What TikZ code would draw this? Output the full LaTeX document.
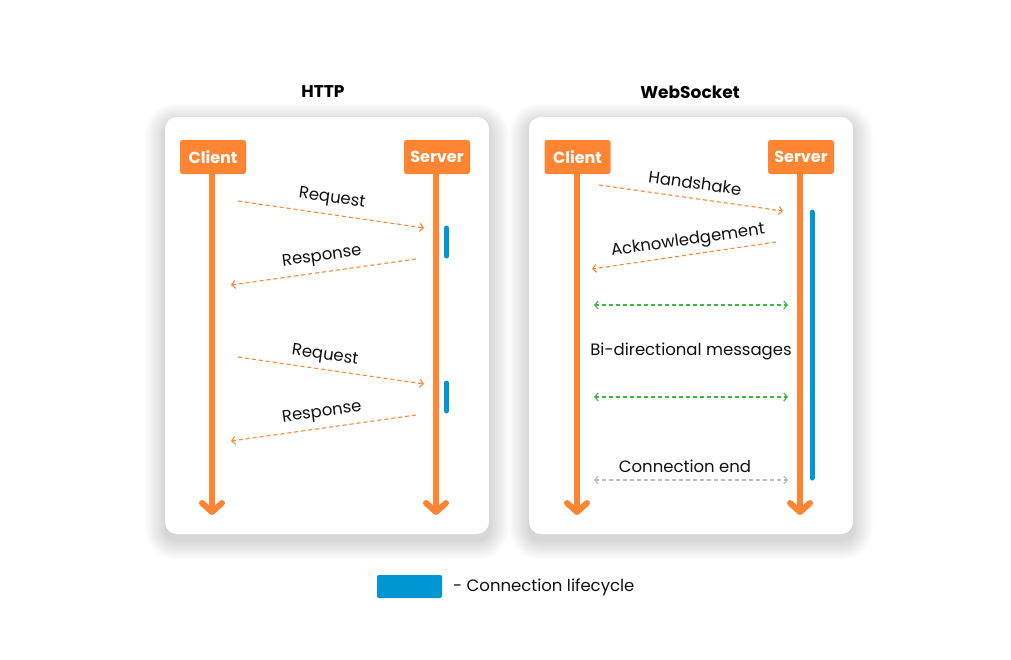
\documentclass[tikz,border=0pt]{standalone}
\usepackage{fontspec}
\setmainfont{Poppins}
\usetikzlibrary{arrows.meta}
\definecolor{orng}{HTML}{FF8533}
\definecolor{lblue}{HTML}{0096D3}
\definecolor{grn}{HTML}{3DBA3D}
\definecolor{gry}{HTML}{BDBDBD}
\definecolor{ink}{HTML}{111111}
\tikzset{
  panel/.style={fill=white,rounded corners=12pt,inner sep=0pt,minimum width=324pt,minimum height=417pt},
  actor/.style={fill=orng,rounded corners=2.5pt,text=white,font=\fontsize{16}{16}\selectfont\bfseries,minimum width=66pt,minimum height=34pt,inner sep=0pt},
  life/.style={draw=orng,line width=6pt,-{Straight Barb[length=9pt,width=20pt,line width=6pt,round]}},
  lifebar/.style={draw=lblue,line width=5pt,line cap=round},
  msg/.style={draw=orng,dashed,dash pattern=on 4pt off 3pt,line width=1.1pt,-{Straight Barb[length=3.5pt,width=8pt]}},
  bimsg/.style={dashed,dash pattern=on 4pt off 3pt,line width=1.1pt,{Straight Barb[length=3.5pt,width=8pt]}-{Straight Barb[length=3.5pt,width=8pt]}},
  lbl/.style={text=ink,font=\fontsize{16.5}{17}\selectfont,inner sep=0pt},
  ttl/.style={text=black,font=\fontsize{17}{17}\selectfont\bfseries,inner sep=0pt},
}
\newcommand{\softshadow}[4]{%
  \foreach \k in {1,...,20}{%
    \fill[black,opacity=0.007,rounded corners=12pt+\k pt]
      (#1-\k,#2-\k+6) rectangle (#3+\k,#4+\k+6);}%
}
\begin{document}
\begin{tikzpicture}[x=1pt,y=-1pt]
\useasboundingbox (0,0) rectangle (1011,659);
\fill[white] (0,0) rectangle (1011,659);
% panels
\softshadow{165}{117}{489}{534}
\softshadow{529}{117}{853}{534}
\node[panel] (p1) at (327,325.5) {};
\node[panel] (p2) at (691,325.5) {};
\node[ttl] (t1) at (323,92) {HTTP};
\node[ttl] (t2) at (690,92) {WebSocket};
% HTTP actors
\node[actor] (c1) at (213,157) {Client};
\node[actor] (s1) at (437,157) {Server};
\coordinate (c1e) at (212,515);
\coordinate (s1e) at (436,515);
\draw[life] (c1.south -| c1e) -- (c1e);
\draw[life] (s1.south -| s1e) -- (s1e);
\coordinate (b1a) at (446.5,228); \coordinate (b1b) at (446.5,256);
\coordinate (b2a) at (446.5,383); \coordinate (b2b) at (446.5,411);
\draw[lifebar] (b1a) -- (b1b);
\draw[lifebar] (b2a) -- (b2b);
% HTTP messages
\coordinate (r1a) at (238,201); \coordinate (r1b) at (424,228);
\coordinate (q1a) at (416,259); \coordinate (q1b) at (231,285);
\coordinate (r2a) at (238,357); \coordinate (r2b) at (424,384);
\coordinate (q2a) at (416,415); \coordinate (q2b) at (231,441);
\draw[msg] (r1a) -- (r1b);
\draw[msg] (q1a) -- (q1b);
\draw[msg] (r2a) -- (r2b);
\draw[msg] (q2a) -- (q2b);
\node[lbl,rotate=-8] (l1) at (332,199) {Request};
\node[lbl,rotate=8] (l2) at (322,257) {Response};
\node[lbl,rotate=-8] (l3) at (325,356) {Request};
\node[lbl,rotate=8] (l4) at (322,413) {Response};
% WebSocket actors
\node[actor] (c2) at (577.5,157) {Client};
\node[actor] (s2) at (801,157) {Server};
\coordinate (c2e) at (577,515);
\coordinate (s2e) at (800,515);
\draw[life] (c2.south -| c2e) -- (c2e);
\draw[life] (s2.south -| s2e) -- (s2e);
\coordinate (b3a) at (812,212); \coordinate (b3b) at (812,478);
\draw[lifebar] (b3a) -- (b3b);
% WebSocket messages
\coordinate (h1a) at (599,185); \coordinate (h1b) at (783,211);
\coordinate (k1a) at (776,242); \coordinate (k1b) at (592,269);
\coordinate (g1a) at (594,305); \coordinate (g1b) at (788,305);
\coordinate (g2a) at (594,397); \coordinate (g2b) at (788,397);
\coordinate (e1a) at (594,480); \coordinate (e1b) at (788,480);
\draw[msg] (h1a) -- (h1b);
\draw[msg] (k1a) -- (k1b);
\draw[bimsg,draw=grn] (g1a) -- (g1b);
\draw[bimsg,draw=grn] (g2a) -- (g2b);
\draw[bimsg,draw=gry] (e1a) -- (e1b);
\node[lbl,rotate=-8] (l5) at (695,183) {Handshake};
\node[lbl,rotate=8] (l6) at (688,241) {Acknowledgement};
\node[lbl] (l7) at (691,351) {Bi-directional messages};
\node[lbl] (l8) at (685,466) {Connection end};
% legend
\node[fill=lblue,rounded corners=2pt,minimum width=65pt,minimum height=23pt,inner sep=0pt] (lg) at (409.5,586.5) {};
\node[lbl,anchor=west] (lgt) at (453,587) {- Connection lifecycle};
\end{tikzpicture}
\end{document}
